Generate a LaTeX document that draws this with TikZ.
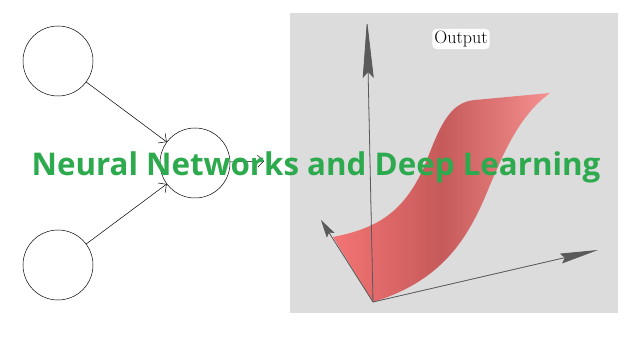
\documentclass[tikz,border=0pt]{standalone}
\usepackage{fontspec}
\newfontfamily\titlefont{Open Sans}
\usetikzlibrary{arrows.meta}

\definecolor{panelgray}{HTML}{DCDCDC}
\definecolor{titlegreen}{HTML}{2DAA4E}
\definecolor{axisgray}{HTML}{5A5A5A}
\definecolor{sheetlight}{HTML}{F47474}
\definecolor{sheetdark}{HTML}{C65A5A}

\tikzset{
	neuron/.style={draw, circle, minimum size=70pt, inner sep=0pt, line width=0.5pt},
	link/.style={-{Straight Barb[length=6pt]}, line width=0.5pt},
	axis/.style={draw=axisgray, fill=axisgray!90!black, line width=0.8pt},
}

\begin{document}
\begin{tikzpicture}[x=1pt,y=-1pt]
	\useasboundingbox (0,0) rectangle (640,339);
	\fill[white] (0,0) rectangle (640,339);

	% a single neuron with two inputs
	\node[neuron] (in1) at (58,61) {};
	\node[neuron] (in2) at (58,265) {};
	\node[neuron] (out) at (195,163) {};
	\coordinate (next) at (264,161);
	\draw[link] (in1) -- (out);
	\draw[link] (in2) -- (out);
	\draw[link] (out) -- (next);

	% plot of the output
	\fill[panelgray] (290,13) rectangle (618,313);
	\shade[left color=sheetlight, right color=sheetlight!80!white, middle color=sheetdark]
		(373,302) -- (333,237)
		.. controls (380,228) and (405,210) .. (425,165)
		.. controls (440,125) and (450,102) .. (475,100)
		-- (550,93)
		.. controls (520,115) and (505,150) .. (490,185)
		.. controls (470,235) and (445,280) .. cycle;
	\coordinate (o) at (373,302);
	\draw[axis, -{Stealth[length=58pt,width=11pt,inset=6pt]}] (o) -- (367,20);
	\draw[axis, -{Stealth[length=38pt,width=10pt,inset=4pt]}] (o) -- (598,250);
	\draw[axis, -{Stealth[length=18pt,width=9pt,inset=3pt]}] (o) -- (321,220);
	\node[fill=white, rounded corners=4pt, inner sep=2pt] (outlabel) at (461,39) {\fontsize{18}{20}\selectfont Output};

	\node[text=titlegreen, anchor=base] (title) at (316,176) {\titlefont\bfseries\fontsize{31.3}{36}\selectfont Neural Networks and Deep Learning};
\end{tikzpicture}
\end{document}
